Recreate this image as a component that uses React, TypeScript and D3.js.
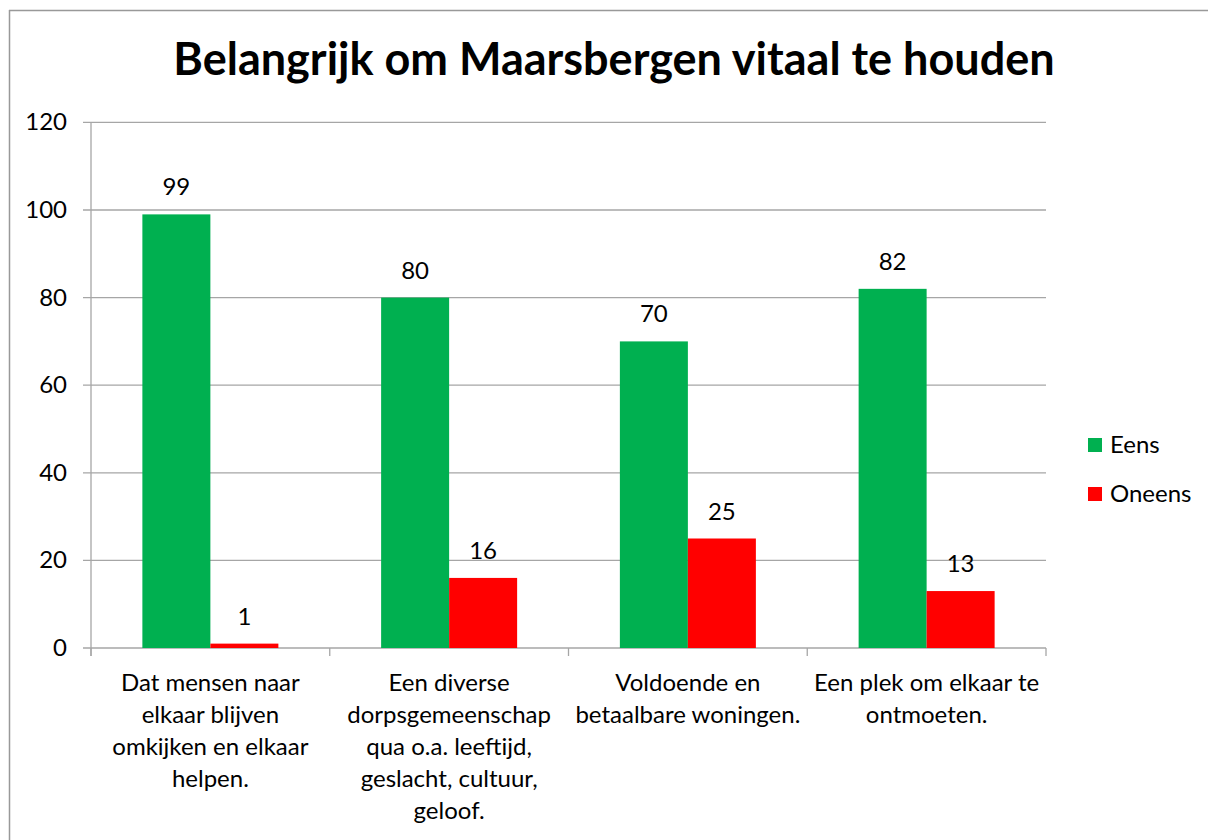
import React from "react";
import * as d3 from "d3";

const categories: string[][] = [
  ["Dat mensen naar", "elkaar blijven", "omkijken en elkaar", "helpen."],
  ["Een diverse", "dorpsgemeenschap", "qua o.a. leeftijd,", "geslacht, cultuur,", "geloof."],
  ["Voldoende en", "betaalbare woningen."],
  ["Een plek om elkaar te", "ontmoeten."],
];
const seriesNames = ["Eens", "Oneens"];
const eensValues = [99, 80, 70, 82];
const oneensValues = [1, 16, 25, 13];
const yTicks = [0, 20, 40, 60, 80, 100, 120];
const colors = ["#00B050", "#FF0000"];
const title = "Belangrijk om Maarsbergen vitaal te houden";

const W = 1208;
const H = 840;
const FONT = "Lato, 'Open Sans', sans-serif";

export default function App() {
  const left = 91;
  const right = 1046;
  const top = 122.4;
  const bottom = 648;

  const y = d3.scaleLinear().domain([0, 120]).range([bottom, top]);
  const x0 = d3
    .scaleBand<number>()
    .domain(categories.map((_, i) => i))
    .range([left, right])
    .paddingInner(0)
    .paddingOuter(0);
  const step = x0.step();
  const groupPad = (step - 136) / 2;
  const x1 = d3
    .scaleBand<number>()
    .domain([0, 1])
    .range([groupPad, step - groupPad])
    .padding(0);

  const series = [eensValues, oneensValues];

  return (
    <svg
      width={W}
      height={H}
      style={{ position: "absolute", left: 0, top: 0, background: "#fff" }}
      fontFamily={FONT}
    >
      <rect x={0} y={0} width={W} height={H} fill="#fff" />
      {/* outer border */}
      <line x1={9.5} y1={10} x2={9.5} y2={H} stroke="#999" strokeWidth={1.5} />
      <line x1={9} y1={10.5} x2={W} y2={10.5} stroke="#999" strokeWidth={1.5} />

      <text
        x={614}
        y={75}
        textAnchor="middle"
        fontSize={45}
        fontWeight="bold"
        fill="#000"
      >
        {title}
      </text>

      {/* gridlines */}
      {yTicks.map((t) => (
        <line
          key={"g" + t}
          x1={left - 8}
          x2={right}
          y1={y(t)}
          y2={y(t)}
          stroke="#a6a6a6"
          strokeWidth={1.3}
        />
      ))}
      {/* y axis */}
      <line x1={left} x2={left} y1={top} y2={bottom + 8} stroke="#a6a6a6" strokeWidth={1.3} />
      {yTicks.map((t) => (
        <text
          key={"t" + t}
          x={67}
          y={y(t) + 8}
          textAnchor="end"
          fontSize={24}
          fill="#000"
        >
          {t}
        </text>
      ))}
      {/* category ticks */}
      {d3.range(categories.length + 1).map((i) => (
        <line
          key={"c" + i}
          x1={left + i * step}
          x2={left + i * step}
          y1={bottom}
          y2={bottom + 8}
          stroke="#a6a6a6"
          strokeWidth={1.3}
        />
      ))}

      {/* bars */}
      {categories.map((_, ci) =>
        series.map((vals, si) => {
          const bx = (x0(ci) as number) + (x1(si) as number);
          const bw = x1.bandwidth();
          const v = vals[ci];
          return (
            <g key={ci + "-" + si}>
              <rect
                x={bx}
                y={y(v)}
                width={bw}
                height={bottom - y(v)}
                fill={colors[si]}
              />
              <text
                x={bx + bw / 2}
                y={y(v) - 19}
                textAnchor="middle"
                fontSize={24}
                fill="#000"
              >
                {v}
              </text>
            </g>
          );
        })
      )}

      {/* category labels */}
      {categories.map((lines, ci) => (
        <text
          key={"l" + ci}
          textAnchor="middle"
          fontSize={24}
          fill="#000"
        >
          {lines.map((ln, li) => (
            <tspan key={li} x={(x0(ci) as number) + step / 2} y={691 + li * 32}>
              {ln}
            </tspan>
          ))}
        </text>
      ))}

      {/* legend */}
      {seriesNames.map((name, i) => (
        <g key={name} transform={`translate(1088, ${438 + i * 49})`}>
          <rect x={0} y={0} width={14} height={14} fill={colors[i]} />
          <text x={22} y={15} fontSize={24} fill="#000">
            {name}
          </text>
        </g>
      ))}
    </svg>
  );
}
